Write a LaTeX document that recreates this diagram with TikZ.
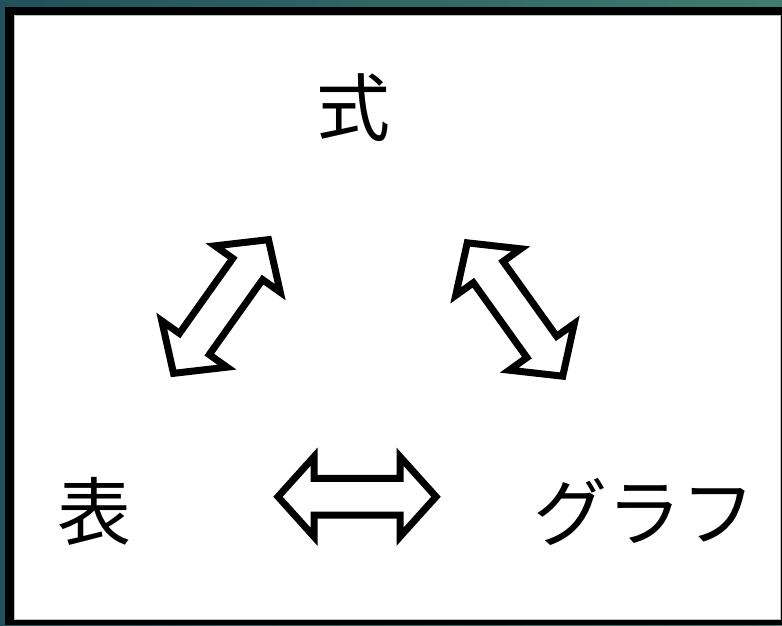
\documentclass[tikz,border=0pt]{standalone}
\usepackage{fontspec}
\newfontfamily\jpfont{Noto Sans CJK JP}
\begin{document}
\begin{tikzpicture}[x=1pt,y=-1pt,
  label/.style={font=\jpfont\fontsize{74}{74}\selectfont, inner sep=0pt, text=black},
  pics/dblarrow/.style={code={
    \draw[line width=7pt, line join=miter, fill=white]
      (-#1/2,0) -- (-#1/2+36,40) -- (-#1/2+36,18.3) -- (#1/2-36,18.3)
      -- (#1/2-36,40) -- (#1/2,0) -- (#1/2-36,-40) -- (#1/2-36,-18.3)
      -- (-#1/2+36,-18.3) -- (-#1/2+36,-40) -- cycle;
  }}]
\useasboundingbox (0,0) rectangle (782,625);
\shade[left color={rgb,255:red,33;green,80;blue,92}, right color={rgb,255:red,64;green,124;blue,112}] (0,0) rectangle (782,625);
\fill[black] (5,7) rectangle (782,625);
\fill[white, draw={rgb,255:red,190;green,190;blue,190}, line width=0.8pt] (14.5,15.5) rectangle (780.5,619.5);
\node[label] (shiki) at (353,108) {式};
\node[label] (hyou) at (94,511) {表};
\node[label] (graph) at (644,512) {グラフ};
\pic[rotate=54.6] at (221,306.5) {dblarrow=164};
\pic[rotate=-54.4] at (515,309.5) {dblarrow=164};
\pic at (357,496.7) {dblarrow=158};
\end{tikzpicture}
\end{document}
